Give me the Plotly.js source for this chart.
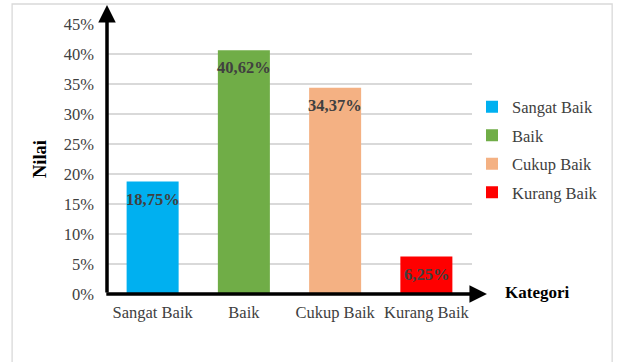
<!DOCTYPE html>
<html>
<head>
<meta charset="utf-8">
<script src="https://cdn.plot.ly/plotly-3.0.1.min.js"></script>
<style>
  html, body { margin: 0; padding: 0; background: #ffffff; }
  #chart { width: 617px; height: 362px; }
</style>
</head>
<body>
<div id="chart"></div>
<script>
const categories = ["Sangat Baik", "Baik", "Cukup Baik", "Kurang Baik"];
const values = [0.1875, 0.4062, 0.3437, 0.0625];
const valueLabels = ["18,75%", "40,62%", "34,37%", "6,25%"];
const colors = ["#00B0F0", "#70AD47", "#F4B183", "#FF0000"];
const yTickVals = [0, 0.05, 0.10, 0.15, 0.20, 0.25, 0.30, 0.35, 0.40, 0.45];
const yTickText = ["0%", "5%", "10%", "15%", "20%", "25%", "30%", "35%", "40%", "45%"];

const FONT = "Liberation Serif, serif";

const traces = categories.map((c, i) => ({
  type: "bar",
  name: c,
  x: [c],
  y: [values[i]],
  width: 0.57,
  marker: { color: colors[i], line: { width: 0 } },
  legendgroup: "g" + i,
  hoverinfo: "skip"
}));

const annotations = categories.map((c, i) => ({
  x: c, y: values[i], xref: "x", yref: "y",
  text: "<b>" + valueLabels[i] + "</b>",
  showarrow: false, yanchor: "top", yshift: -6,
  font: { family: FONT, size: 16.5, color: "#404040" }
}));

// axis arrows
annotations.push({
  xref: "x domain", yref: "y domain", axref: "x domain", ayref: "y domain",
  x: 0, y: 1.07, ax: 0, ay: 0, text: "", showarrow: true,
  arrowhead: 2, arrowsize: 1, arrowwidth: 3.5, arrowcolor: "#000000", standoff: 0, startstandoff: 0
});
annotations.push({
  xref: "x domain", yref: "y domain", axref: "x domain", ayref: "y domain",
  x: 1.041, y: 0, ax: -0.006, ay: 0, text: "", showarrow: true,
  arrowhead: 2, arrowsize: 1, arrowwidth: 3.5, arrowcolor: "#000000", standoff: 0, startstandoff: 0
});
annotations.push({
  xref: "paper", yref: "paper", x: 1.085, y: 0.005, xanchor: "left", yanchor: "middle",
  text: "<b>Kategori</b>", showarrow: false,
  font: { family: FONT, size: 17, color: "#000000" }
});

const layout = {
  width: 617, height: 362,
  margin: { l: 107, r: 145, t: 24, b: 68 },
  paper_bgcolor: "#ffffff", plot_bgcolor: "#ffffff",
  barmode: "overlay",
  showlegend: true,
  font: { family: FONT, size: 16.5, color: "#404040" },
  xaxis: {
    type: "category", categoryorder: "array", categoryarray: categories,
    range: [-0.5, 3.5], showgrid: false, zeroline: false, showline: false,
    ticks: "", ticklabelstandoff: 6,
    tickfont: { family: FONT, size: 16.5, color: "#404040" },
    fixedrange: true
  },
  yaxis: {
    range: [0, 0.45], tickvals: yTickVals, ticktext: yTickText,
    showgrid: true, gridcolor: "#D9D9D9", gridwidth: 1.3,
    zeroline: false, showline: false, ticks: "", ticklabelstandoff: 12,
    tickfont: { family: FONT, size: 16.5, color: "#404040" },
    title: { text: "<b>Nilai</b>", font: { family: FONT, size: 18.5, color: "#000000" }, standoff: 12 },
    fixedrange: true
  },
  legend: {
    x: 1.0, xanchor: "left", y: 0.757, yanchor: "top",
    font: { family: FONT, size: 16.5, color: "#404040" },
    tracegroupgap: 4, bgcolor: "rgba(0,0,0,0)", itemclick: false
  },
  shapes: [{
    type: "rect", xref: "paper", yref: "paper",
    x0: -0.26, x1: 1.384, y0: -0.35, y1: 1.074,
    line: { color: "#D9D9D9", width: 1.3 }, fillcolor: "rgba(0,0,0,0)", layer: "below"
  }],
  annotations: annotations
};

Plotly.newPlot("chart", traces, layout, { displayModeBar: false, staticPlot: true });
</script>
</body>
</html>
